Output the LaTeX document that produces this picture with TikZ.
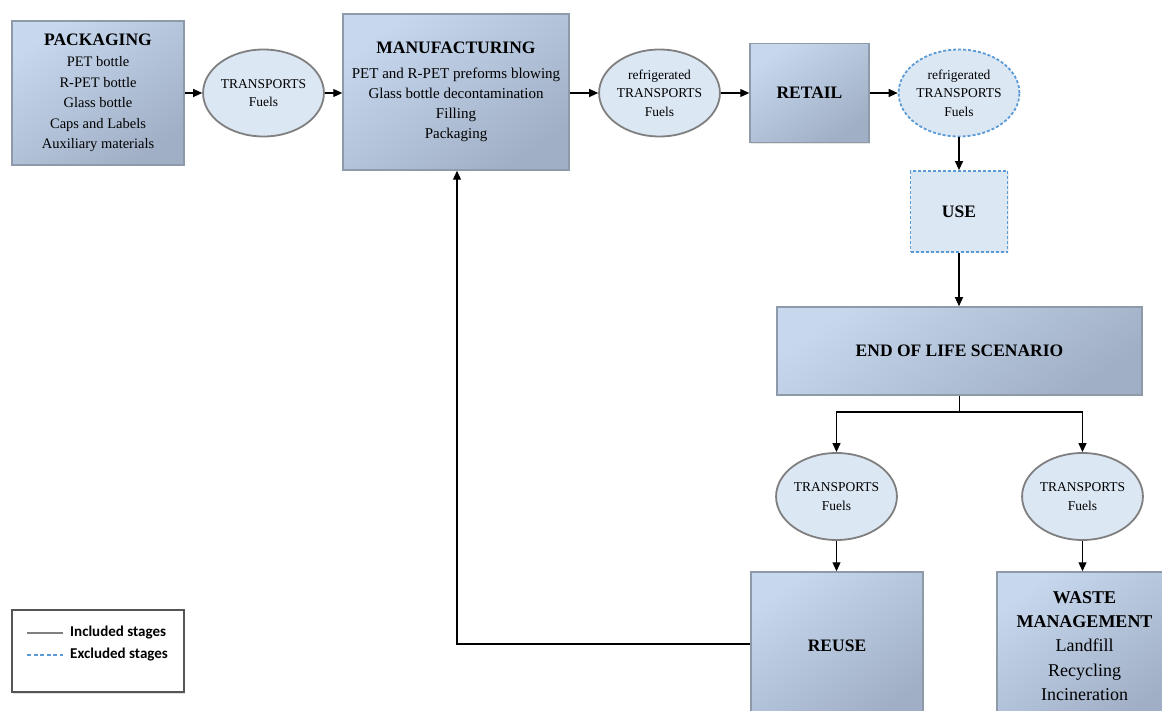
\documentclass[tikz,border=0pt]{standalone}
\usepackage{fontspec}
\setmainfont{Liberation Serif}
\newfontfamily\legfont{Carlito}
\usetikzlibrary{arrows.meta,shapes.geometric,shadows}
\definecolor{boxlight}{HTML}{C6D7EE}
\definecolor{boxdark}{HTML}{A0AFC5}
\definecolor{boxedge}{HTML}{8E99A9}
\definecolor{ellfill}{HTML}{DCE7F4}
\definecolor{elledge}{HTML}{7F7F7F}
\definecolor{exblue}{HTML}{5B9BD5}
\definecolor{leggray}{HTML}{808080}
\definecolor{legedge}{HTML}{555555}
\newcommand\stagettl[1]{{\fontsize{17.5}{20.5}\selectfont\bfseries #1}}
\begin{document}
\begin{tikzpicture}[x=1pt,y=1pt,
  stagebox/.style={rectangle, draw=boxedge, line width=1.5pt,
    top color=boxlight, bottom color=boxdark, shading angle=35,
    inner sep=0pt, align=center,
    drop shadow={shadow xshift=1.2pt, shadow yshift=-1.5pt, opacity=0.2, fill=gray}},
  trans/.style={ellipse, draw=elledge, line width=1.8pt, fill=ellfill,
    inner sep=0pt, align=center, minimum width=118pt, minimum height=87pt,
    font=\fontsize{13.5}{18.5}\selectfont},
  excl/.style={draw=exblue, dash pattern=on 3pt off 2pt, line width=1.8pt, fill=ellfill},
  arr/.style={-{Triangle[length=9pt,width=8pt]}, line width=1.2pt},
  conn/.style={line width=1.2pt}
]
\useasboundingbox (0,0) rectangle (1162,710);

% top row
\node[stagebox, minimum width=172pt, minimum height=144pt,
  font=\fontsize{14.5}{20.5}\selectfont] (pack) at (98,617)
  {\stagettl{PACKAGING}\\[1pt]PET bottle\\R-PET bottle\\Glass bottle\\Caps and Labels\\Auxiliary materials};
\node[trans] (t1) at (263.5,617) {TRANSPORTS\\Fuels};
\node[stagebox, minimum width=226pt, minimum height=156pt,
  font=\fontsize{15}{20}\selectfont] (manuf) at (456,618)
  {\stagettl{MANUFACTURING}\\[4.5pt]PET and R-PET preforms blowing\\Glass bottle decontamination\\Filling\\Packaging};
\node[trans, minimum width=117pt] (t2) at (659.5,617) {refrigerated\\TRANSPORTS\\Fuels};
\node[stagebox, minimum width=119pt, minimum height=99pt] (retail) at (809.5,617) {\stagettl{RETAIL}};
\node[trans, excl] (t3) at (959,617) {refrigerated\\TRANSPORTS\\Fuels};

% right column
\node[rectangle, excl, minimum width=97pt, minimum height=81pt, inner sep=0pt,
  drop shadow={shadow xshift=1.2pt, shadow yshift=-1.5pt, opacity=0.12, fill=gray}] (use) at (959,498.5) {\stagettl{USE}};
\node[stagebox, minimum width=365pt, minimum height=88pt] (eol) at (959.5,359) {\stagettl{END OF LIFE SCENARIO}};
\coordinate (split) at (959.5,298);
\node[trans] (tL) at (836.5,213.5) {TRANSPORTS\\Fuels};
\node[trans] (tR) at (1082.5,213.5) {TRANSPORTS\\Fuels};
\node[stagebox, minimum width=172pt, minimum height=148pt] (reuse) at (837,64) {\stagettl{REUSE}};
\node[stagebox, minimum width=175pt, minimum height=148pt,
  font=\fontsize{18}{24.2}\selectfont] (waste) at (1084.5,64)
  {\stagettl{\fontsize{18}{24.2}\selectfont WASTE}\\\stagettl{\fontsize{18}{24.2}\selectfont MANAGEMENT}\\Landfill\\Recycling\\Incineration};

% connectors
\draw[arr] (pack.east) -- (t1.west);
\draw[arr] (t1.east) -- (manuf.west |- t1.east);
\draw[arr] (manuf.east |- t2.west) -- (t2.west);
\draw[arr] (t2.east) -- (retail.west |- t2.east);
\draw[arr] (retail.east |- t3.west) -- (t3.west);
\draw[arr] (t3.south) -- (use.north -| t3.south);
\draw[arr] (use.south) -- (eol.north -| use.south);
\draw[conn] (eol.south) -- (split);
\draw[arr] (split) -| (tL.north);
\draw[arr] (split) -| (tR.north);
\draw[arr] (tL.south) -- (reuse.north -| tL.south);
\draw[arr] (tR.south) -- (waste.north -| tR.south);
\coordinate (back) at (457,66);
\draw[arr] (reuse.west |- back) -- (back) -- (manuf.south -| back);

% legend
\node[rectangle, draw=legedge, line width=1.5pt, fill=white, minimum width=172pt, minimum height=82pt,
  drop shadow={shadow xshift=1.2pt, shadow yshift=-1.5pt, opacity=0.25, fill=gray}] (legend) at (98,59) {};
\coordinate (inA) at (27,77);
\coordinate (inB) at (63,77);
\coordinate (exA) at (27,55);
\coordinate (exB) at (63,55);
\draw[leggray, line width=2pt] (inA) -- (inB);
\draw[exblue, line width=2pt, dash pattern=on 4pt off 2.5pt] (exA) -- (exB);
\node[anchor=west, inner sep=0pt, font=\legfont\bfseries\fontsize{15}{17}\selectfont] (inc) at (70,77) {Included stages};
\node[anchor=west, inner sep=0pt, font=\legfont\bfseries\fontsize{15}{17}\selectfont] (exc) at (70,55) {Excluded stages};
\end{tikzpicture}
\end{document}
